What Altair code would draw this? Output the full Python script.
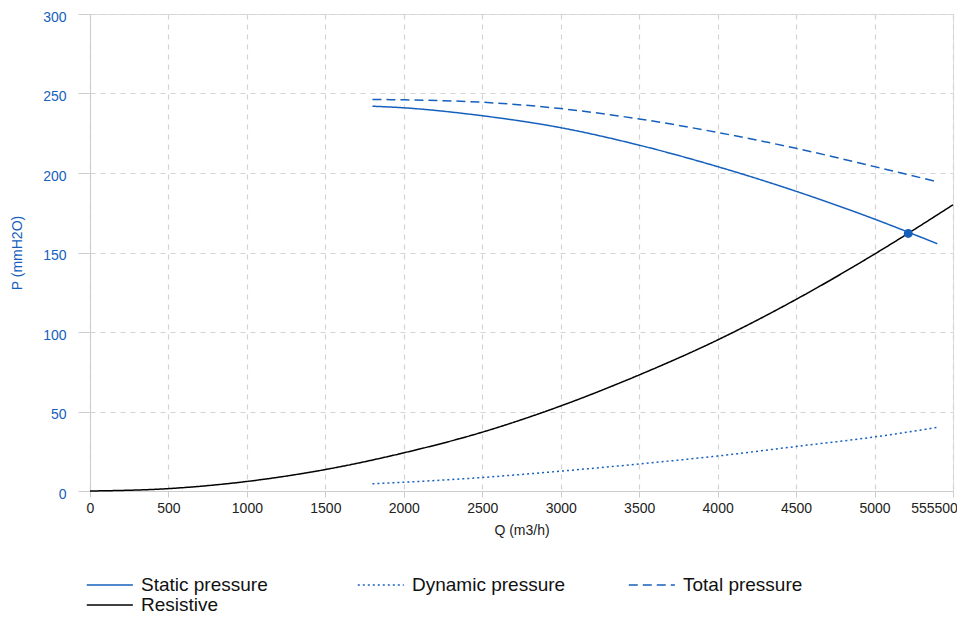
import altair as alt
import pandas as pd

# ---- data ----
q_fan = [1800, 2000, 2500, 3000, 3500, 4000, 4500, 5000, 5400]
static_p = [242.0, 241.0, 236.0, 228.5, 217.5, 204.0, 188.5, 171.0, 155.5]
dynamic_p = [4.5, 5.5, 8.5, 12.5, 17.0, 22.0, 28.0, 34.0, 40.0]
total_p = [246.3, 246.0, 244.5, 240.5, 234.0, 225.5, 215.5, 204.0, 194.5]

q_res = [0, 500, 1000, 1500, 2000, 2500, 3000, 3500, 4000, 4500, 5000, 5500]
res_p = [0.0, 1.5, 6.0, 13.5, 24.0, 37.0, 53.5, 73.0, 95.0, 120.5, 149.0, 180.0]

op_q = [5215]
op_p = [162.0]

series_names = ["Static pressure", "Dynamic pressure", "Total pressure", "Resistive"]
series_colors = ["#1560bd", "#1560bd", "#1560bd", "#000000"]
series_dash = [[1, 0], [2, 3], [9, 5], [1, 0]]

x_tick_values = [0, 500, 1000, 1500, 2000, 2500, 3000, 3500, 4000, 4500, 5000, 5500]
x_last_label = "555500"
y_tick_values = [0, 50, 100, 150, 200, 250, 300]

BLUE = "#1560bd"

rows = []
for q, p in zip(q_fan, static_p):
    rows.append({"series": series_names[0], "Q": q, "P": p})
for q, p in zip(q_fan, dynamic_p):
    rows.append({"series": series_names[1], "Q": q, "P": p})
for q, p in zip(q_fan, total_p):
    rows.append({"series": series_names[2], "Q": q, "P": p})
for q, p in zip(q_res, res_p):
    rows.append({"series": series_names[3], "Q": q, "P": p})
df = pd.DataFrame(rows)
op_df = pd.DataFrame({"Q": op_q, "P": op_p})

x_scale = alt.Scale(domain=[0, 5500], nice=False, zero=True)
y_scale = alt.Scale(domain=[0, 300], nice=False)

x_axis = alt.Axis(
    values=x_tick_values, format="d",
    title="Q (m3/h)",
    labelExpr=f"datum.value == {x_tick_values[-1]} ? '{x_last_label}' : datum.label",
    labelFlush=False,
    labelOffset={"condition": {"test": f"datum.value == {x_tick_values[-1]}", "value": -19}, "value": 0},
    grid=True, gridDash=[5, 5], gridColor="#d3d3d3", gridWidth=1.2,
    domainColor="#cccccc", tickColor="#cccccc", tickSize=6,
    labelFontSize=14, labelColor="#222222", labelPadding=4,
    titleFontSize=14, titleFontWeight="normal", titleColor="#222222", titlePadding=8,
)
y_axis = alt.Axis(
    values=y_tick_values, format="d",
    title="P (mmH2O)",
    labelFlush=False, labelOffset=3,
    grid=True, gridDash=[5, 5], gridColor="#d3d3d3", gridWidth=1.2,
    domainColor="#cccccc", tickColor="#cccccc", tickSize=12,
    labelFontSize=14, labelColor=BLUE, labelPadding=12,
    titleFontSize=14, titleFontWeight="normal", titleColor=BLUE, titlePadding=18,
)

# custom horizontal stroke symbol: ~46px long with a small nominal symbol size
legend = alt.Legend(
    title=None, orient="none", legendX=-4, legendY=561, columns=3, direction="horizontal",
    values=series_names,
    gridAlign="all", columnPadding=59, rowPadding=0, padding=0,
    symbolType="M-1,0L4,0", symbolSize=340, symbolStrokeWidth=1.5,
    labelFontSize=19, labelOffset=35, labelLimit=400, labelColor="#111111",
)

lines = alt.Chart(df).mark_line(strokeWidth=1.5, interpolate="monotone").encode(
    x=alt.X("Q:Q", scale=x_scale, axis=x_axis),
    y=alt.Y("P:Q", scale=y_scale, axis=y_axis),
    color=alt.Color("series:N", sort=series_names,
                    scale=alt.Scale(domain=series_names, range=series_colors), legend=legend),
    strokeDash=alt.StrokeDash("series:N", sort=series_names,
                              scale=alt.Scale(domain=series_names, range=series_dash), legend=legend),
)

point = alt.Chart(op_df).mark_circle(size=80, color=BLUE, opacity=1).encode(
    x=alt.X("Q:Q", scale=x_scale),
    y=alt.Y("P:Q", scale=y_scale),
)

chart = alt.layer(lines, point).properties(
    width=863, height=477,
    autosize=alt.AutoSizeParams(type="none"),
    padding={"left": 82, "top": 6, "right": 4, "bottom": 123},
).configure_view(stroke=None).configure(font="Liberation Sans")

chart.save("out.html", embed_options={"renderer": "svg", "actions": False})
